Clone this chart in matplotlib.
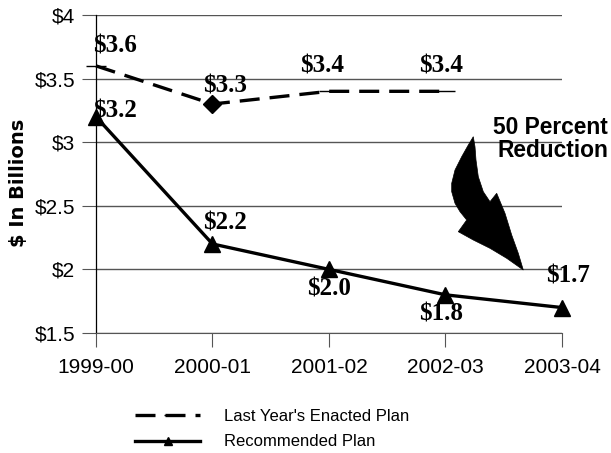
import matplotlib.pyplot as plt
from matplotlib.patches import Polygon

years = ['1999-00', '2000-01', '2001-02', '2002-03', '2003-04']
enacted = [3.6, 3.3, 3.4, 3.4]
recommended = [3.2, 2.2, 2.0, 1.8, 1.7]
yticks = [1.5, 2, 2.5, 3, 3.5, 4]
ytick_labels = ['$1.5', '$2', '$2.5', '$3', '$3.5', '$4']

# label offsets in points from each point
enacted_off = [(14, 14), (9, 13), (-5, 18), (-3, 18)]
recom_off = [(14, 4.5), (9, 15), (0, -14), (-3.5, -13.5), (4, 23)]

plt.rcParams['font.family'] = ['Liberation Sans', 'DejaVu Sans']

fig = plt.figure(figsize=(6.11, 4.53), dpi=100)
ax = fig.add_axes([0.1571, 0.2649, 0.7627, 0.702])

x1 = list(range(len(enacted)))
x2 = list(range(len(recommended)))

ax.plot(x1, enacted, color='black', lw=2.4, dashes=(6, 3), marker='_', ms=14,
        mew=1, markevery=[0, 2, 3], label="Last Year's Enacted Plan", clip_on=False)
ax.plot(x1[1], enacted[1], color='black', marker='D', ms=9.5, ls='none')
ax.plot(x2, recommended, color='black', lw=2.4, marker='^', ms=12,
        label='Recommended Plan', clip_on=False)

serif = dict(family='Liberation Serif', fontweight='bold', fontsize=18)
for i, v in enumerate(enacted):
    ax.annotate('$%.1f' % v, (i, v), xytext=enacted_off[i], textcoords='offset points',
                ha='center', va='center', **serif)
for i, v in enumerate(recommended):
    ax.annotate('$%.1f' % v, (i, v), xytext=recom_off[i], textcoords='offset points',
                ha='center', va='center', **serif)

ax.set_xlim(0, 4)
ax.set_ylim(1.5, 4)
ax.set_xticks(x2)
ax.set_xticklabels(years, fontsize=15)
ax.set_yticks(yticks)
ax.set_yticklabels(ytick_labels, fontsize=15)
ax.tick_params(axis='y', length=10, color='#555555', pad=5)
ax.tick_params(axis='x', length=10, color='#555555', pad=8)
ax.yaxis.grid(True, color='#555555', lw=1)
ax.set_axisbelow(True)
for s in ['top', 'right']:
    ax.spines[s].set_visible(False)
ax.spines['left'].set_color('black')
ax.spines['left'].set_linewidth(0.9)
ax.spines['bottom'].set_color('#555555')

fig.text(18.5 / 611, 1 - 183 / 453, '$ In Billions', rotation=90, ha='center',
         va='center', fontsize=14, fontweight='bold', family='DejaVu Sans')

fig.text(608 / 611, 1 - 139 / 453, '50 Percent\nReduction', ha='right', va='center',
         fontsize=16.4, fontweight='bold', linespacing=0.95)

# curved arrow, outline in pixels
H = 453
pts = [(473.3, 136.7), (468.3, 145), (461.7, 156.7), (455, 170), (451.7, 183.3),
       (451.7, 191.7), (455, 203.3), (460, 211.7), (466.7, 220), (458.3, 231.7),
       (473.3, 240), (490, 248.3), (506.7, 258.3), (523.3, 270), (518.3, 253.3),
       (511.7, 235), (505, 213.3), (496.7, 193.3), (490, 201.7), (483.3, 191.7),
       (478.3, 176.7), (476, 160), (475, 146.7)]
fig.add_artist(Polygon([(x, H - y) for x, y in pts], closed=True,
                       facecolor='black', edgecolor='black', lw=0.5, transform=None))

fig.legend(loc='center', bbox_to_anchor=(272 / 611, 1 - 429 / 453), frameon=False,
           fontsize=12, handlelength=3.9, markerscale=0.45,
           labelspacing=0.65, handletextpad=1.4)

fig.savefig('out.png', dpi=100)
